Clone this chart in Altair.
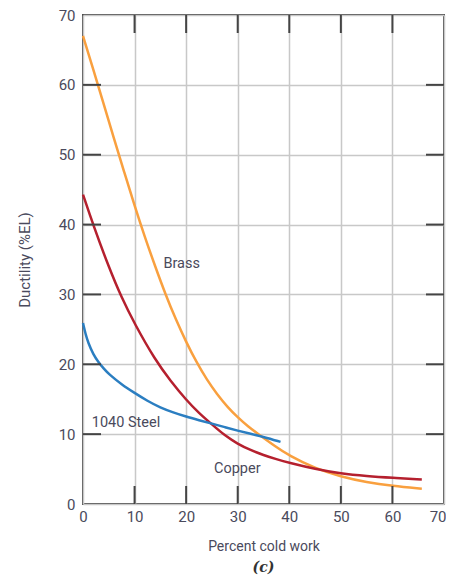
import altair as alt
import pandas as pd

# ---- data ----
brass_x = [0, 2, 4, 6, 8, 10, 12, 14, 16, 18, 20, 22, 24, 26, 28, 30, 32, 34, 37, 40, 45, 50, 55, 60, 65.7]
brass_y = [67, 62.2, 57.3, 52.3, 47.5, 42.7, 38.2, 34.0, 30.0, 26.4, 23.2, 20.3, 17.8, 15.7, 13.9, 12.4, 11.1, 10.0, 8.4, 6.9, 5.1, 3.9, 3.1, 2.6, 2.2]

copper_x = [0, 2, 5, 7.5, 10, 14, 17, 20, 22.5, 25, 27.5, 30, 32.5, 35, 37.5, 40, 45, 50, 55, 60, 65.7]
copper_y = [44.3, 39.9, 33.9, 29.5, 25.8, 20.6, 17.6, 14.9, 13.0, 11.4, 9.8, 8.6, 7.7, 7.0, 6.4, 5.9, 5.0, 4.35, 4.0, 3.75, 3.5]

steel_x = [0, 0.5, 1, 2, 3, 4, 5, 7.5, 10, 12.5, 15, 17.5, 20, 22.5, 25, 27.5, 30, 32.5, 35, 38.3]
steel_y = [25.9, 24.3, 23.1, 21.4, 20.3, 19.4, 18.6, 17.1, 15.9, 14.75, 13.8, 13.1, 12.5, 12.0, 11.5, 11.0, 10.5, 10.05, 9.6, 8.9]

series_names = ["Brass", "Copper", "1040 Steel"]
series_colors = ["#F9A03F", "#B5202E", "#2B7EC1"]

label_text = ["Brass", "1040 Steel", "Copper"]
label_x = [15.6, 1.7, 25.4]
label_y = [34.4, 11.55, 5.0]

x_tick_values = [0, 10, 20, 30, 40, 50, 60, 70]
y_tick_values = [0, 10, 20, 30, 40, 50, 60, 70]
inner_x_ticks = [10, 20, 30, 40, 50, 60]
inner_y_ticks = [10, 20, 30, 40, 50, 60]

W, H = 361, 489
TICK = 18
FONT = "Roboto"
TXT = "#4a4a5c"

rows = []
for name, xs, ys in [("Brass", brass_x, brass_y), ("Copper", copper_x, copper_y), ("1040 Steel", steel_x, steel_y)]:
    for i, (a, b) in enumerate(zip(xs, ys)):
        rows.append({"series": name, "x": a, "y": b, "order": i})
df = pd.DataFrame(rows)

labels_df = pd.DataFrame({"text": label_text, "x": label_x, "y": label_y})
xt_df = pd.DataFrame({"v": inner_x_ticks})
yt_df = pd.DataFrame({"v": inner_y_ticks})

xscale = alt.Scale(domain=[0, 70], nice=False, zero=False)
yscale = alt.Scale(domain=[0, 70], nice=False, zero=False)

lines = alt.Chart(df).mark_line(strokeWidth=2.5, interpolate="basis").encode(
    x=alt.X("x:Q", scale=xscale, title="Percent cold work",
            axis=alt.Axis(values=x_tick_values, grid=True, ticks=False, domain=False,
                          labelPadding=5, titlePadding=15, format="d", labelFlush=False,
                          labelAlign={"condition": {"test": "datum.value == 70", "value": "right"},
                                      "value": "center"},
                          labelOffset={"condition": {"test": "datum.value == 70", "value": 2},
                                       "value": 0},
                          titleFontSize=14)),
    y=alt.Y("y:Q", scale=yscale, title="Ductility (%EL)",
            axis=alt.Axis(values=y_tick_values, grid=True, ticks=False, domain=False,
                          labelPadding=8, titleX=-51, format="d", labelFlush=False,
                          titleFontSize=15)),
    color=alt.Color("series:N", scale=alt.Scale(domain=series_names, range=series_colors), legend=None),
    order="order:Q",
)

texts = alt.Chart(labels_df).mark_text(align="left", baseline="middle", font=FONT,
                                       fontSize=14.5, color=TXT).encode(
    x=alt.X("x:Q", scale=xscale),
    y=alt.Y("y:Q", scale=yscale),
    text="text:N",
)

tick_style = dict(color="#444444", strokeWidth=2)
left_ticks = alt.Chart(yt_df).mark_rule(**tick_style).encode(
    y=alt.Y("v:Q", scale=yscale), x=alt.value(0), x2=alt.value(TICK))
right_ticks = alt.Chart(yt_df).mark_rule(**tick_style).encode(
    y=alt.Y("v:Q", scale=yscale), x=alt.value(W - TICK), x2=alt.value(W))
bottom_ticks = alt.Chart(xt_df).mark_rule(**tick_style).encode(
    x=alt.X("v:Q", scale=xscale), y=alt.value(H - TICK), y2=alt.value(H))
top_ticks = alt.Chart(xt_df).mark_rule(**tick_style).encode(
    x=alt.X("v:Q", scale=xscale), y=alt.value(0), y2=alt.value(TICK))

chart = alt.layer(lines, left_ticks, right_ticks, bottom_ticks, top_ticks, texts).properties(
    width=W, height=H,
    autosize=alt.AutoSizeParams(type="none"),
    padding={"left": 75, "top": 7, "right": 2, "bottom": 72},
    title=alt.TitleParams("(c)", orient="bottom", font="DejaVu Serif", fontSize=14,
                          fontWeight="bold", fontStyle="italic", color="#333333", offset=8),
).configure_view(
    stroke="#4d4d4d", strokeWidth=2
).configure_axis(
    labelFont=FONT, labelFontSize=15, labelColor=TXT,
    titleFont=FONT, titleColor=TXT, titleFontWeight="normal",
    gridColor="#c8c8c8", gridWidth=1.5,
)

chart.save("out.html", embed_options={"renderer": "svg", "actions": False})
